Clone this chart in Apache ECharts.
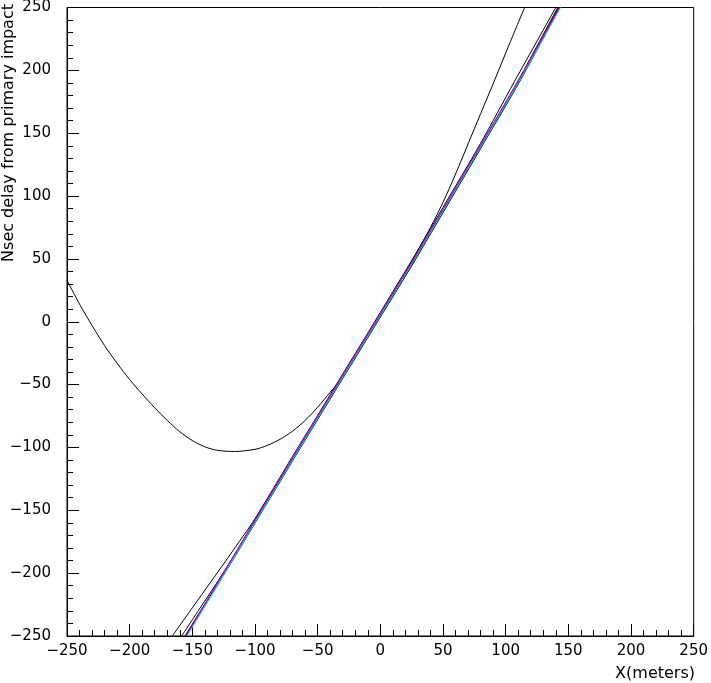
<!DOCTYPE html>
<html><head><meta charset="utf-8">
<script src="https://cdn.jsdelivr.net/npm/echarts@6/dist/echarts.min.js"></script>
<style>html,body{margin:0;padding:0;background:#fff}#c{width:711px;height:683px}</style>
</head><body><div id="c"></div>
<script>
// Axis ticks
const axisMin = -250, axisMax = 250, axisStep = 50;

// Wide hyperbola-like curve (black)
const bigX = [-250, -240, -230, -220, -210, -200, -190, -180, -170, -160, -150, -140, -130, -116.4, -100, -90, -80, -70, -60, -50, -40, -32, -20, -5, 10, 20, 30, 40, 50, 60, 70, 80, 91.3, 103, 115.1];
const bigY = [33, 14, -3, -19, -33, -46, -57.5, -68.5, -78.5, -87.5, -94.5, -99.5, -102.3, -103.2, -101.5, -98.3, -93.5, -87, -78.5, -68, -56, -46.5, -28, -3, 22.5, 39, 57, 75, 95, 117.5, 141.5, 165.5, 192.5, 221, 250];

// Curve A (black, thin)
const aX = [-166, -150, -135, -120, -110, -102, -95, -85, -70, -50, -30, -10, 10, 30, 50, 80, 107.1, 140];
const aY = [-250, -227.6, -206.6, -185.5, -171.2, -159.8, -148.5, -132, -107, -74.5, -41.5, -9, 24, 57, 91, 142, 191.3, 250];

// Curve B (black, thin)
const bX = [-158.5, -145, -130, -115, -100, -80, -60, -33, 0, 26.4, 50, 80, 110.3, 141.5];
const bY = [-250, -229.5, -207, -183, -157.5, -125, -92.3, -48, 6, 49, 89.2, 140.5, 192.5, 250];

// Main nearly straight cluster (black, thick)
const mainX = [-155.3, -130, -100, -82, -60, -33, 0, 26.4, 50, 80, 110.3, 142.8];
const mainY = [-250, -208.8, -159.3, -129.6, -93.3, -49.2, 4.5, 47.6, 87.7, 138.7, 190.5, 250];

// Cyan curve
const cyanX = [-154.3, -130, -100, -82, -60, -33, 0, 26.4, 50, 80, 110.3, 143.8];
const cyanY = [-250, -209.5, -159.5, -129.8, -93.3, -49, 4.8, 48, 88, 139, 190.5, 250];

// Magenta curve
const magX = [-155, -130, -100, -82, -60, -33, 0, 26.4, 50, 80, 110.3, 143];
const magY = [-250, -208, -158, -128, -91.8, -47.6, 6.2, 49.3, 89.5, 140.5, 192, 250];

const xName = 'X(meters)';
const yName = 'Nsec delay from primary impact';

const zip = (xs, ys) => xs.map((x, i) => [x, ys[i]]);
const fmt = v => (v < 0 ? '\u2212' : '') + Math.abs(v);
const FONT = 'DejaVu Sans';

function axis(){
  return {
    type: 'value', min: axisMin, max: axisMax, interval: axisStep,
    axisLine: {show: true, onZero: false, lineStyle: {color: '#000', width: 1}},
    axisTick: {show: true, inside: true, length: 12, lineStyle: {color: '#000', width: 1}},
    minorTick: {show: true, splitNumber: 5, length: 6, lineStyle: {color: '#000', width: 1}},
    splitLine: {show: false},
    axisLabel: {formatter: fmt, color: '#000', fontFamily: FONT, fontSize: 15}
  };
}

const xa = axis(); xa.axisLabel.margin = 8;
const ya = axis(); ya.axisLabel.margin = 16;

function line(xs, ys, color, width, z){
  return {type: 'line', data: zip(xs, ys), symbol: 'none', smooth: 0.3, clip: true, z: z,
    lineStyle: {color: color, width: width}, emphasis: {disabled: true}};
}

const chart = echarts.init(document.getElementById('c'), null, {renderer: 'canvas'});
chart.setOption({
  animation: false,
  backgroundColor: '#fff',
  grid: {left: 67, right: 14, top: 6, bottom: 47, show: true, borderColor: '#000', borderWidth: 1, backgroundColor: 'transparent'},
  xAxis: xa,
  yAxis: ya,
  series: [
    line(bigX, bigY, '#000', 1, 2),
    line(aX, aY, '#000', 1, 2),
    line(bX, bY, '#000', 1, 2),
    line(mainX, mainY, '#000', 2, 3),
    line(cyanX, cyanY, '#00ffff', 1, 4),
    line(magX, magY, '#ff00ff', 1, 5)
  ],
  graphic: [
    {type: 'text', x: 695, y: 674, style: {text: xName, fontFamily: FONT, fontSize: 16, fill: '#000', align: 'right', verticalAlign: 'middle'}},
    {type: 'text', x: 1, y: 4, rotation: Math.PI / 2, style: {text: yName, fontFamily: FONT, fontSize: 16, fill: '#000', align: 'right', verticalAlign: 'top'}}
  ]
});
</script>
</body></html>
